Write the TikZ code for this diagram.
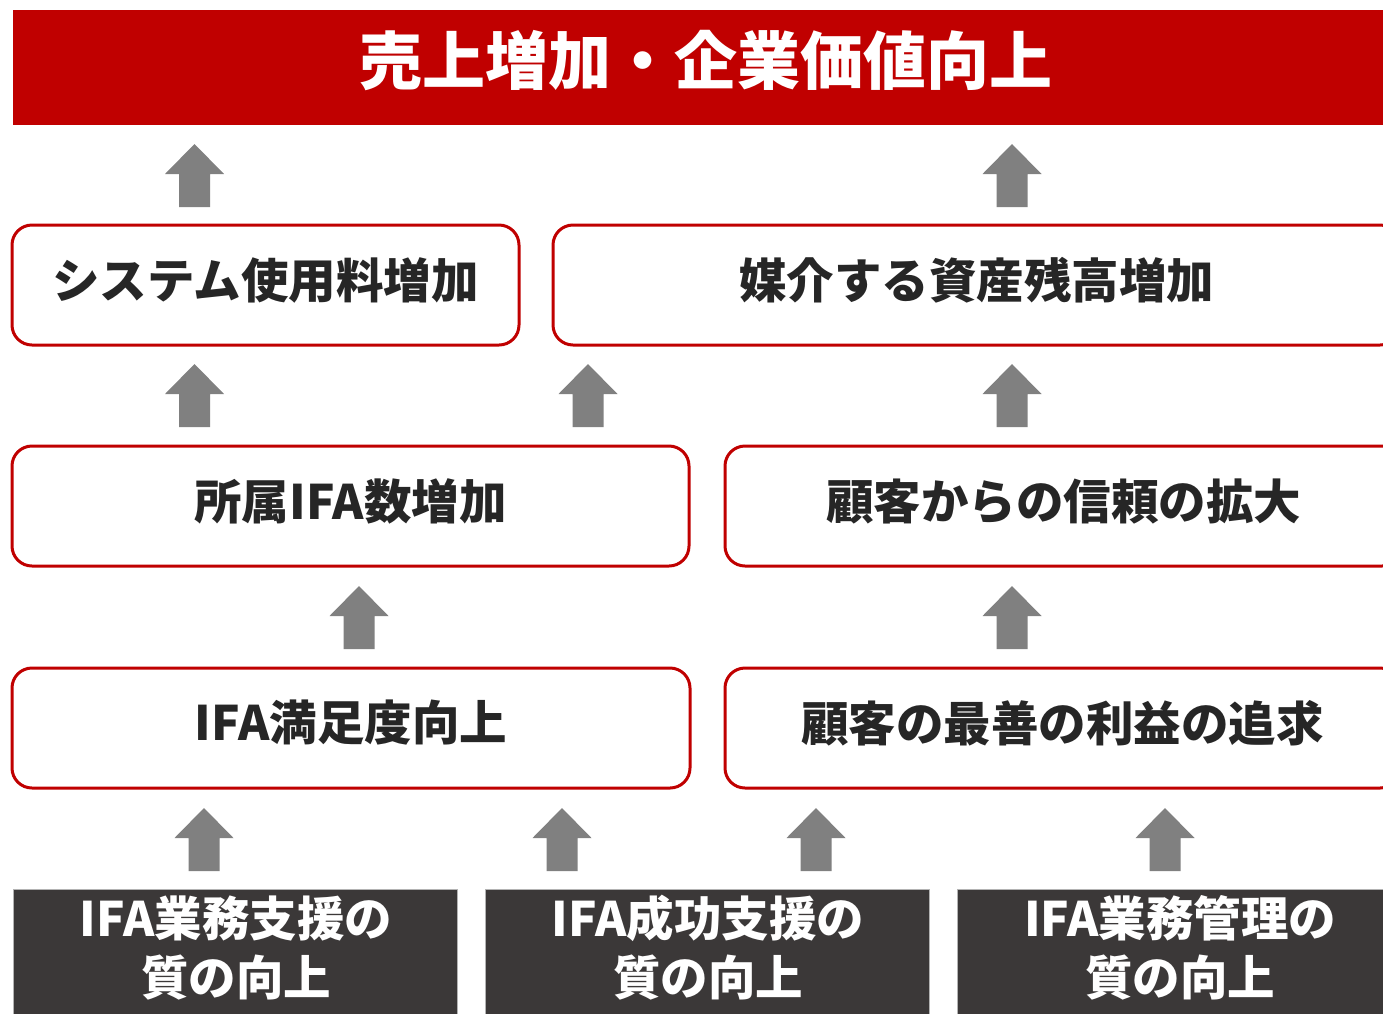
\documentclass[tikz,border=0pt]{standalone}
\usepackage{fontspec}
\newfontfamily\jp{Noto Sans CJK JP}
\definecolor{bannerred}{HTML}{C00000}
\definecolor{arrowgray}{HTML}{808080}
\definecolor{darkbox}{HTML}{3B3838}
\definecolor{txtdark}{HTML}{262626}
\tikzset{
  banner/.style={fill=bannerred, draw=none, inner sep=0pt, anchor=center},
  bannertext/.style={text=white, font=\jp\bfseries\fontsize{63}{70}\selectfont, inner sep=0pt},
  redbox/.style={draw=bannerred, line width=3pt, rounded corners=20pt, fill=white, inner sep=0pt},
  boxtext/.style={text=txtdark, font=\jp\bfseries\fontsize{47.5}{57}\selectfont, inner sep=0pt, yshift=5pt},
  basebox/.style={fill=darkbox, draw=arrowgray!60, line width=1pt, inner sep=0pt},
  basetext/.style={text=white, align=center, font=\jp\bfseries\fontsize{47.5}{59}\selectfont, inner sep=0pt},
  pics/uparr/.style={code={
    \fill[arrowgray] (0,0) -- (29.5,30) -- (15.5,30) -- (15.5,63) -- (-15.5,63) -- (-15.5,30) -- (-29.5,30) -- cycle;
  }}
}
\begin{document}
\begin{tikzpicture}[x=1pt,y=-1pt]
\useasboundingbox[fill=white] (0,0) rectangle (1383,1013);
% top banner
\node[banner, minimum width=1370pt, minimum height=115pt] (top) at (698,67.5) {};
\node[bannertext] (toptxt) at (706,61) {売上増加・企業価値向上};
% row 1
\node[redbox, minimum width=507pt, minimum height=120pt] (sys) at (265.5,285) {};
\node[boxtext] (systxt) at (sys.center) {システム使用料増加};
\node[redbox, minimum width=847pt, minimum height=120pt] (asset) at (976.5,285) {};
\node[boxtext] (assettxt) at (asset.center) {媒介する資産残高増加};
% row 2
\node[redbox, minimum width=677pt, minimum height=120pt] (ifanum) at (350.5,506) {};
\node[boxtext] (ifanumtxt) at (ifanum.center) {所属IFA数増加};
\node[redbox, minimum width=677pt, minimum height=120pt] (trust) at (1063.5,506) {};
\node[boxtext] (trusttxt) at (trust.center) {顧客からの信頼の拡大};
% row 3
\node[redbox, minimum width=678pt, minimum height=120pt] (sat) at (351,728) {};
\node[boxtext] (sattxt) at (sat.center) {IFA満足度向上};
\node[redbox, minimum width=675pt, minimum height=120pt] (best) at (1062.5,728) {};
\node[boxtext] (besttxt) at (best.center) {顧客の最善の利益の追求};
% bottom row
\node[basebox, minimum width=444pt, minimum height=135pt] (b1) at (235,956.5) {};
\node[basetext] (b1txt) at (236,948) {IFA業務支援の\\質の向上};
\node[basebox, minimum width=444pt, minimum height=135pt] (b2) at (707,956.5) {};
\node[basetext] (b2txt) at (708,948) {IFA成功支援の\\質の向上};
\node[basebox, minimum width=444pt, minimum height=135pt] (b3) at (1179,956.5) {};
\node[basetext] (b3txt) at (1180,948) {IFA業務管理の\\質の向上};
% arrows
\pic at (194.5,144) {uparr};
\pic at (1012,144) {uparr};
\pic at (194.5,364) {uparr};
\pic at (588,364) {uparr};
\pic at (1012,364) {uparr};
\pic at (359,586) {uparr};
\pic at (1012,586) {uparr};
\pic at (204,808) {uparr};
\pic at (562,808) {uparr};
\pic at (816,808) {uparr};
\pic at (1165,808) {uparr};
\end{tikzpicture}
\end{document}
